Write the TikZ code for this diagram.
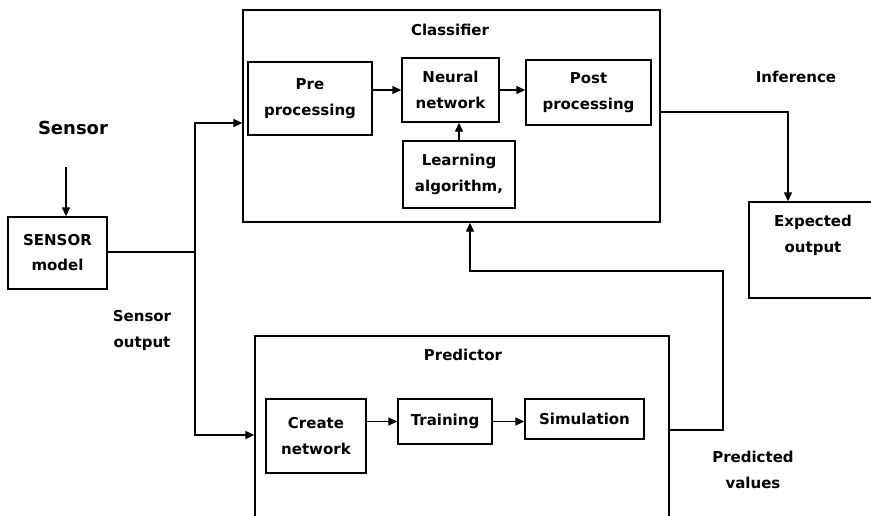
\documentclass[tikz,border=0pt]{standalone}
\usepackage{fontspec}
\setmainfont{DejaVu Sans}
\usetikzlibrary{arrows.meta}
\begin{document}
\begin{tikzpicture}[
  x=1pt, y=-1pt,
  every node/.style={font=\fontsize{15}{26}\selectfont\bfseries, align=center, inner sep=0pt},
  blk/.style={draw, line width=1.4pt},
  arr/.style={line width=1.4pt, -{Triangle[length=9pt,width=8pt]}},
  wire/.style={line width=1.4pt}
]
\clip (0,0) rectangle (871,515);
% outer blocks
\node[blk, minimum width=417, minimum height=212] (classifier) at (451.5,116) {};
\node (classtitle) at (450,30) {Classifier};
\node[blk, minimum width=414, minimum height=198] (predictor) at (462,435) {};
\node (predtitle) at (463,355) {Predictor};
% sensor side
\node[font=\fontsize{18}{22}\selectfont\bfseries] (sensorlbl) at (73,128) {Sensor};
\node[blk, minimum width=99, minimum height=72] (sensor) at (57.5,253) {SENSOR\\[-1pt]model};
\node (sensorout) at (142,330) {Sensor\\output};
\coordinate (sensorin) at (66,167);
\coordinate (split) at (195,252);
% classifier blocks
\node[blk, minimum width=124, minimum height=73] (pre) at (310,98.5) {Pre\\processing};
\node[blk, minimum width=97, minimum height=64] (neural) at (450.5,90) {Neural\\network};
\node[blk, minimum width=125, minimum height=65] (post) at (588.5,92.5) {Post\\processing};
\node[blk, minimum width=112, minimum height=67] (learn) at (459,174.5) {Learning\\algorithm,};
% predictor blocks
\node[blk, minimum width=100, minimum height=74] (create) at (316,436) {Create\\network};
\node[blk, minimum width=94, minimum height=45] (training) at (445,421.5) {Training};
\node[blk, minimum width=119, minimum height=40] (simulation) at (584.5,419) {Simulation};
% outputs
\node[blk, minimum width=128, minimum height=96] (expected) at (813,250) {};
\node (expectedtxt) at (813,235) {Expected\\output};
\node (inference) at (796,77) {Inference};
\node (predicted) at (753,470) {Predicted\\values};
\coordinate (turn) at (723,271);

% connectors
\draw[arr] (sensorin) -- (sensorin |- sensor.north);
\draw[wire] (sensor.east |- split) -- (split);
\draw[arr] (split) |- ([yshift=-7pt]classifier.west);
\draw[arr] (split) |- (predictor.west);
\draw[arr] (pre.east |- neural.west) -- (neural.west);
\draw[arr] (neural.east) -- (neural.east -| post.west);
\draw[arr] (learn.north) -- (learn.north |- neural.south);
\draw[arr] ([yshift=4pt]classifier.east) -| ([xshift=-25pt]expected.north);
\draw[arr] (create.east |- training.west) -- (training.west);
\draw[arr] (training.east) -- (training.east -| simulation.west);
\draw[arr] ([yshift=5pt]predictor.east) -| (turn) -| ([xshift=18.5pt]classifier.south);
\end{tikzpicture}
\end{document}
